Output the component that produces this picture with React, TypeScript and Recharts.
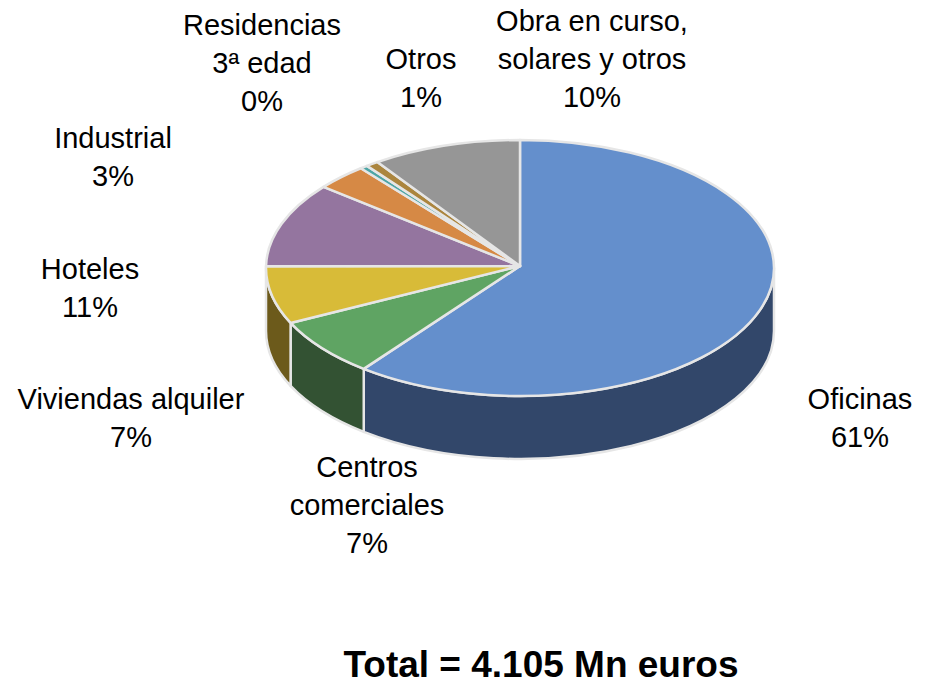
import React from 'react';
import { PieChart, Pie, Cell } from 'recharts';

// values (slice sizes), labels show them rounded
const categories = [
  'Oficinas',
  'Centros\ncomerciales',
  'Viviendas alquiler',
  'Hoteles',
  'Industrial',
  'Residencias\n3ª edad',
  'Otros',
  'Obra en curso,\nsolares y otros',
];
const shares = [60.6, 7.4, 7.3, 10.7, 3.3, 0.49, 0.8, 9.5];

const topColors = ['#648fcc', '#5fa463', '#d8bb38', '#94759f', '#d68945', '#4da5a5', '#ab853e', '#969696'];
const sideColors = ['#32476a', '#335233', '#6c5a1b', '#4d3d53', '#6f4724', '#285656', '#594520', '#4e4e4e'];

// centre x and first baseline of each label block
const labelX = [860, 367, 131, 90, 113, 262, 421, 592];
const labelY = [409, 477, 409, 279, 148, 35, 69, 31];

const FONT = '"Liberation Sans", Arial, sans-serif';
const TILT = 128 / 254;
const DEPTH = 63;
const APEX_LIFT = 2; // slices meet a little above the centre of the ellipse
const EDGE = '#e6e6e6';

const data = categories.map((name, i) => ({ name, value: shares[i] }));

function Slice3D(props: any) {
  const { cx, cy, outerRadius, startAngle, endAngle, index } = props;
  const rx = outerRadius;
  const ry = outerRadius * TILT;
  const px = (a: number) => cx + rx * Math.cos((a * Math.PI) / 180);
  const py = (a: number) => cy - ry * Math.sin((a * Math.PI) / 180);

  const large = Math.abs(endAngle - startAngle) > 180 ? 1 : 0;
  const top = `M${cx},${cy - APEX_LIFT} L${px(startAngle)},${py(startAngle)} A${rx},${ry} 0 ${large} 1 ${px(endAngle)},${py(endAngle)} Z`;

  // the wall only shows on the front half of the disc
  const a1 = Math.min(startAngle, 0);
  const a2 = Math.max(endAngle, -180);
  const wall =
    a1 > a2
      ? `M${px(a1)},${py(a1)} A${rx},${ry} 0 0 1 ${px(a2)},${py(a2)} L${px(a2)},${py(a2) + DEPTH} A${rx},${ry} 0 0 0 ${px(a1)},${py(a1) + DEPTH} Z`
      : null;

  return (
    <g>
      {wall && <path d={wall} fill={sideColors[index]} stroke={EDGE} strokeWidth={2.5} strokeLinejoin="round" />}
      <path d={top} fill={topColors[index]} stroke={EDGE} strokeWidth={2.5} strokeLinejoin="round" />
    </g>
  );
}

function renderLabel(props: any) {
  const { index, name, value } = props;
  const lines = [...String(name).split('\n'), `${Math.round(value)}%`];
  return (
    <text key={index} textAnchor="middle" fontFamily={FONT} fontSize={29} fill="#000000">
      {lines.map((line, i) => (
        <tspan key={i} x={labelX[index]} y={labelY[index] + i * 38}>
          {line}
        </tspan>
      ))}
    </text>
  );
}

export default function App() {
  return (
    <div style={{ position: 'absolute', left: 0, top: 0, width: 933, height: 684, overflow: 'hidden', background: '#ffffff' }}>
      <PieChart width={933} height={684} margin={{ top: 0, right: 0, bottom: 0, left: 0 }}>
        <Pie
          data={data}
          dataKey="value"
          nameKey="name"
          cx={520}
          cy={268}
          outerRadius={254}
          startAngle={90}
          endAngle={-270}
          stroke="none"
          shape={Slice3D}
          label={renderLabel}
          labelLine={false}
          isAnimationActive={false}
        >
          {data.map((d, i) => (
            <Cell key={d.name} fill={topColors[i]} />
          ))}
        </Pie>
      </PieChart>
      <div
        style={{
          position: 'absolute',
          left: 241,
          width: 600,
          top: 647,
          textAlign: 'center',
          fontFamily: FONT,
          fontWeight: 'bold',
          fontSize: 37,
          lineHeight: '36px',
          color: '#000000',
        }}
      >
        Total = 4.105 Mn euros
      </div>
    </div>
  );
}
